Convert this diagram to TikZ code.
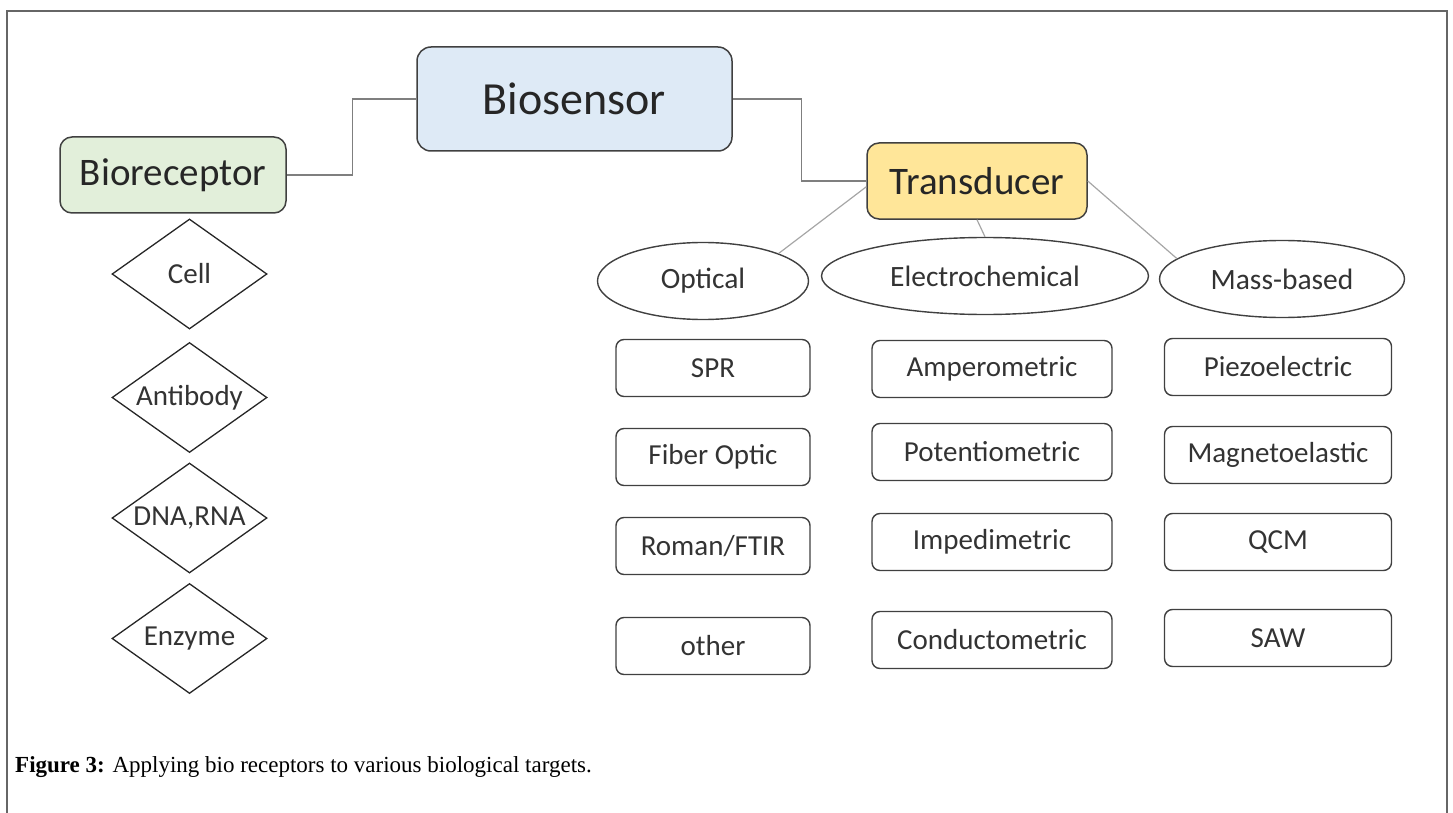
\documentclass[tikz,border=0pt]{standalone}
\usepackage{fontspec}
\setmainfont{Liberation Serif}
\newfontfamily\calfont{Carlito}
\usetikzlibrary{shapes.geometric}

\definecolor{bioblue}{HTML}{DEEAF6}
\definecolor{biogreen}{HTML}{E2EFDA}
\definecolor{bioyellow}{HTML}{FFE699}
\definecolor{edgegray}{HTML}{404040}
\definecolor{linkgray}{HTML}{7F7F7F}
\definecolor{lightlink}{HTML}{A6A6A6}

\tikzset{
  headbox/.style={draw=edgegray, line width=1.5pt, rounded corners=12pt, inner sep=0pt,
    text=black!85, font=\calfont\fontsize{39}{41}\selectfont},
  kindell/.style={ellipse, draw=edgegray, line width=1.4pt, inner sep=0pt,
    minimum height=77pt, text=black!80, font=\calfont\fontsize{29.5}{31}\selectfont},
  itembox/.style={draw=edgegray, line width=1.4pt, rounded corners=8pt, inner sep=0pt,
    minimum height=57pt, text=black!80, font=\calfont\fontsize{29}{31}\selectfont},
  targetdia/.style={diamond, draw=black!85, line width=1.3pt, inner sep=0pt, aspect=1.41,
    minimum width=155pt, minimum height=110pt, text=black!80, font=\calfont\fontsize{29}{31}\selectfont},
  link/.style={draw=linkgray, line width=1.3pt},
  thinlink/.style={draw=lightlink, line width=1.2pt}
}

\begin{document}
\begin{tikzpicture}[x=1pt, y=-1pt]
  \useasboundingbox (0,0) rectangle (1453,813);
  % frame
  \draw[black!60, line width=1.5pt] (7,813) -- (7,11) -- (1447,11) -- (1447,813);
  % main boxes
  \node[headbox, fill=bioblue, rounded corners=14pt, minimum width=315pt, minimum height=104pt,
    font=\calfont\fontsize{46}{48}\selectfont] (bios) at (574.5,99) {Biosensor};
  \node[headbox, fill=biogreen, minimum width=226pt, minimum height=76pt] (bior) at (173,175) {Bioreceptor};
  \node[headbox, fill=bioyellow, minimum width=220pt, minimum height=76pt] (trans) at (977,181) {Transducer};
  \draw[link] (bior.east) -- ++(66,0) |- (bios.west);
  \draw[link] (bios.east) -- ++(69,0) |- (trans.west);
  % bioreceptor targets
  \foreach \y/\n/\t in {274/cell/Cell, 397.5/anti/Antibody, 518/dna/{DNA,RNA}, 638.5/enz/Enzyme} {
    \node[targetdia] (\n) at (189.5,\y) {\t};
  }
  % transducer kinds
  \node[kindell, minimum width=211pt] (opt) at (703,281) {Optical};
  \node[kindell, minimum width=327pt] (elec) at (985,276) {Electrochemical};
  \node[kindell, minimum width=245pt] (mass) at (1282,279) {Mass-based};
  \draw[thinlink] (trans.183) -- (opt.20);
  \draw[thinlink] (trans.south) -- (elec.north);
  \draw[thinlink] (trans.east) -- (mass.169);
  % optical
  \foreach \y/\n/\t in {368/spr/SPR, 457/fib/Fiber Optic, 546/ram/{Roman/FTIR}, 646/oth/other} {
    \node[itembox, minimum width=194pt] (\n) at (713,\y) {\t};
  }
  % electrochemical
  \foreach \y/\n/\t in {369/amp/Amperometric, 452/pot/Potentiometric, 542/imp/Impedimetric, 640/con/Conductometric} {
    \node[itembox, minimum width=240pt] (\n) at (992,\y) {\t};
  }
  % mass-based
  \foreach \y/\n/\t in {367/pie/Piezoelectric, 455/mag/Magnetoelastic, 542/qcm/QCM, 638/saw/SAW} {
    \node[itembox, minimum width=227pt] (\n) at (1278,\y) {\t};
  }
  % caption
  \node[anchor=west, inner sep=0pt, font=\fontsize{23}{25}\selectfont] (cap) at (15,767)
    {\textbf{Figure 3:} Applying bio receptors to various biological targets.};
\end{tikzpicture}
\end{document}
